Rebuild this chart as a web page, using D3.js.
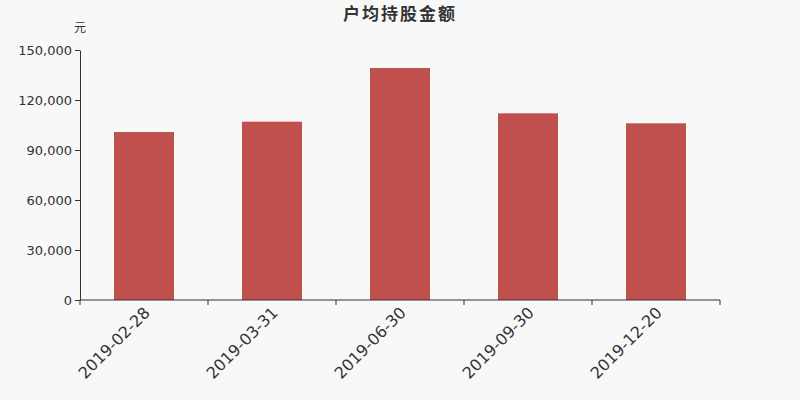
<!DOCTYPE html>
<html>
<head>
<meta charset="utf-8">
<script src="https://cdn.jsdelivr.net/npm/d3@7"></script>
<style>
  body { margin: 0; background: #f8f8f8; }
  svg { display: block; font-family: "DejaVu Sans", "Noto Sans CJK SC", sans-serif; }
</style>
</head>
<body>
<svg id="chart" width="800" height="400"></svg>
<script>
// data
const dates = ["2019-02-28", "2019-03-31", "2019-06-30", "2019-09-30", "2019-12-20"];
const amounts = [100800, 107000, 139200, 112000, 106000];
const yTicks = [0, 30000, 60000, 90000, 120000, 150000];

const margin = { top: 50, right: 80, bottom: 100, left: 80 },
  width = 800 - margin.left - margin.right,
  height = 400 - margin.top - margin.bottom;

const svg = d3.select("#chart");
svg.append("rect").attr("width", 800).attr("height", 400).attr("fill", "#f8f8f8");

svg.append("text")
  .attr("x", 400).attr("y", 20)
  .attr("text-anchor", "middle")
  .attr("font-size", 17).attr("font-weight", "bold")
  .attr("letter-spacing", 2)
  .attr("fill", "#333")
  .text("户均持股金额");

const g = svg.append("g").attr("transform", `translate(${margin.left},${margin.top})`);

const x = d3.scaleBand().domain(dates).range([0, width]);
const y = d3.scaleLinear().domain([0, 150000]).range([height, 0]);

// unit label
g.append("text")
  .attr("x", 0).attr("y", -18)
  .attr("text-anchor", "middle")
  .attr("font-size", 12).attr("fill", "#333")
  .text("元");

// bars
g.selectAll("rect.bar")
  .data(amounts)
  .join("rect")
  .attr("class", "bar")
  .attr("x", (d, i) => x(dates[i]) + (x.bandwidth() - 60) / 2)
  .attr("width", 60)
  .attr("y", d => y(d))
  .attr("height", d => height - y(d))
  .attr("fill", "#c0504d");

// y axis
const yAxis = g.append("g")
  .call(d3.axisLeft(y).tickValues(yTicks).tickSize(5).tickSizeOuter(0).tickFormat(d3.format(",")))
  .attr("font-family", "DejaVu Sans");
yAxis.select(".domain").attr("stroke", "#333");
yAxis.selectAll(".tick line").attr("stroke", "#333");
yAxis.selectAll("text").attr("font-size", 13).attr("fill", "#333").attr("x", -8);

// x axis: ticks at band boundaries
const xAxis = g.append("g").attr("transform", `translate(0,${height})`);
xAxis.append("line")
  .attr("x1", 0).attr("x2", width)
  .attr("stroke", "#333");
const bounds = dates.map(d => x(d)).concat([width]);
xAxis.selectAll("line.tk")
  .data(bounds)
  .join("line")
  .attr("class", "tk")
  .attr("x1", d => d).attr("x2", d => d)
  .attr("y1", 0).attr("y2", 5)
  .attr("stroke", "#333");
xAxis.selectAll("text.lbl")
  .data(dates)
  .join("text")
  .attr("class", "lbl")
  .attr("transform", d => `translate(${x(d) + x.bandwidth() / 2 - 1},${6}) rotate(-45)`)
  .attr("text-anchor", "end")
  .attr("dy", "0.7em")
  .attr("font-size", 16)
  .attr("fill", "#333")
  .text(d => d);
</script>
</body>
</html>
